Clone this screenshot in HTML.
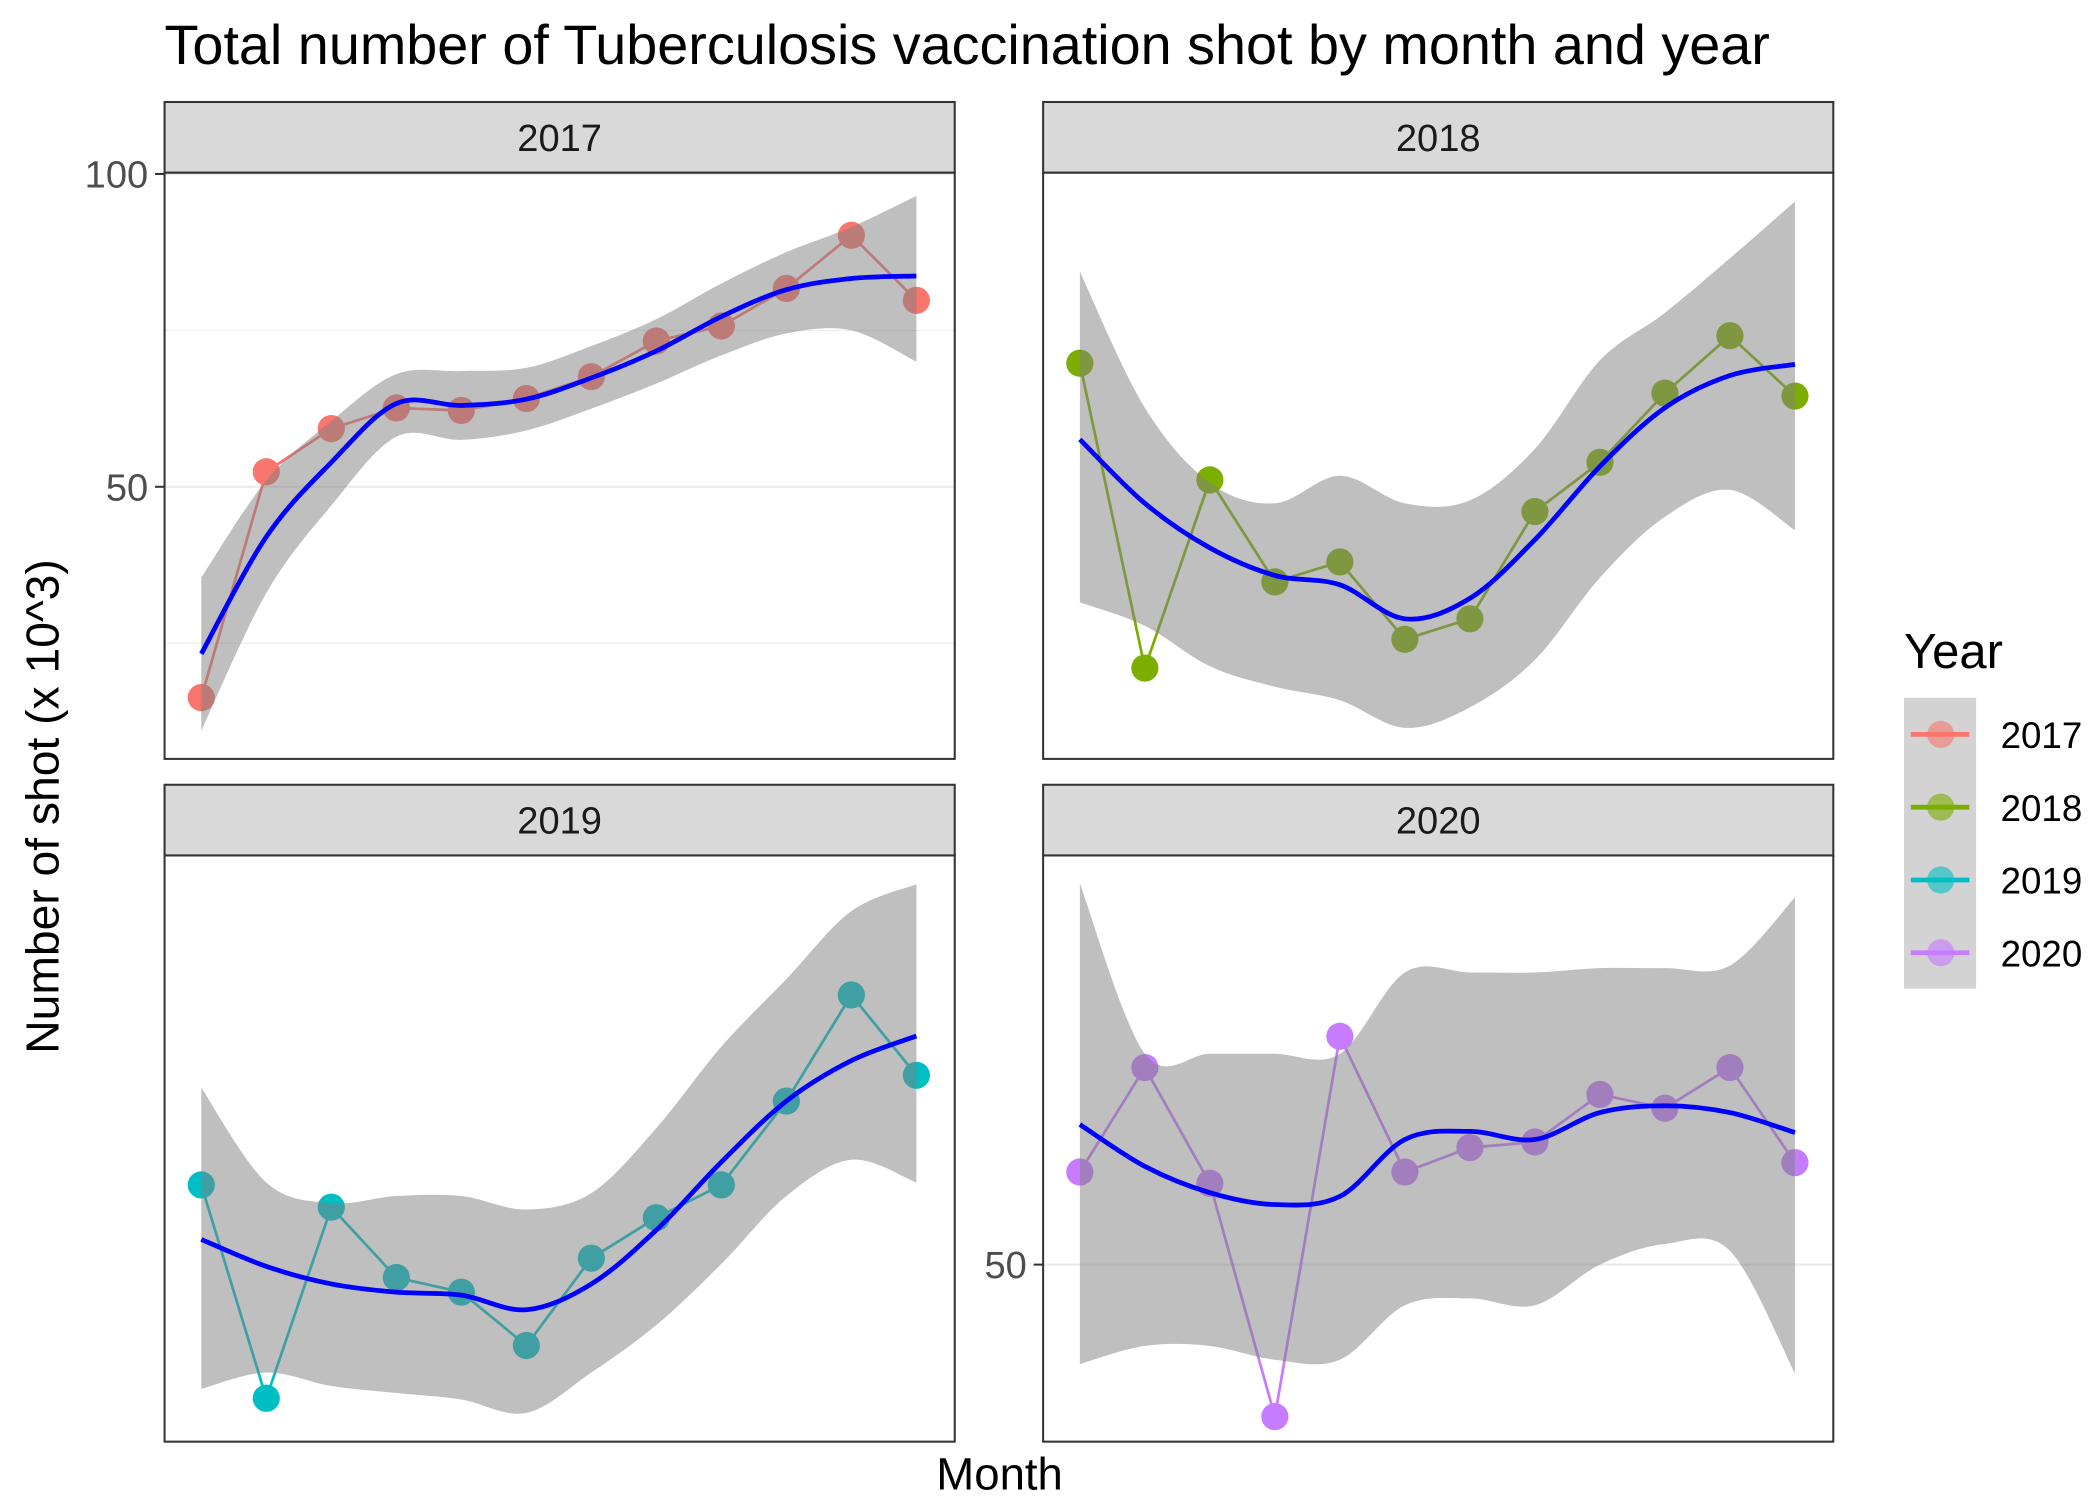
<!DOCTYPE html>
<html><head><meta charset="utf-8"><style>
html,body{margin:0;padding:0;background:#fff}
svg{display:block;font-family:"Liberation Sans",sans-serif}
</style></head><body>
<svg id="chart" width="2100" height="1500" viewBox="0 0 1544.1 1102.9" preserveAspectRatio="none">
<text x="121" y="47" font-size="41" fill="#000">Total number of Tuberculosis vaccination shot by month and year</text>
<text transform="translate(43,593) rotate(-90)" text-anchor="middle" font-size="34" fill="#000">Number of shot (x 10^3)</text>
<text x="735" y="1095" text-anchor="middle" font-size="33.5" fill="#000">Month</text>
<g id="panels"></g>
<g>
<text x="1400" y="491" font-size="36" fill="#000">Year</text>
<rect x="1400" y="513" width="53" height="214" fill="#d3d3d3"/>
<g id="legend-items"></g>
</g>
</svg>
<script>
const months = [1,2,3,4,5,6,7,8,9,10,11,12];
const years = ['2017','2018','2019','2020'];
const colors = ['#F8766D','#7CAE00','#00BFC4','#C77CFF'];
const shots2017 = [16.3,52.4,59.3,62.6,62.2,64.1,67.6,73.3,75.7,81.7,90.2,79.8];
const shots2018 = [67.5,15.5,47.6,30.2,33.6,20.4,23.9,42.2,50.6,62.4,72.2,61.9];
const shots2019 = [43.8,7.4,40,28,25.5,16.4,31.3,38.2,43.8,58.1,76.2,62.5];
const shots2020 = [64.8,81.5,63,25.7,86.5,64.8,68.7,69.6,77.2,75,81.5,66.3];
const fit2017 = [23.3,42,53.9,63.3,63,64,67.4,71.7,77.2,81.5,83.3,83.7];
const lo2017 = [11,33,47,58,57.5,59,62.5,66.5,71,74.5,75,70];
const hi2017 = [35.5,51,60.5,68,68.5,69,72.5,76.8,82.5,87.5,91.5,96.5];
const fit2018 = [54.5,43.6,36,31.3,29.7,23.9,27.4,37.4,49.9,59.9,65.4,67.3];
const lo2018 = [26.7,22.7,15.8,12.3,10,5.3,8.8,16.9,30.9,41.3,45.9,39];
const hi2018 = [83.1,59.9,47.1,43.6,48.3,43.6,44.1,52.9,68,76.1,85.4,95.1];
const fit2019 = [34.5,29.9,26.9,25.5,25,22.5,26.9,36.1,47.7,58.1,65,69.2];
const lo2019 = [9,11.8,9.5,8.3,7.2,4.9,11.8,19.9,30.3,41.9,48.1,44.2];
const hi2019 = [60.4,44.2,40.7,41.9,41.9,39.6,42.4,53.5,67.4,78.9,90.5,95.1];
const fit2020 = [72.4,65.7,61.5,59.6,60.9,70,71.3,70,74.3,75.4,74.3,71.1];
const lo2020 = [34.1,37,37,34.8,34.8,43.5,44.6,43.5,50,53.3,52.2,32.6];
const hi2020 = [110.9,83.7,83.7,83.7,83.7,96.7,96.7,96.7,97.4,97.4,97.8,108.7];
const yTicks2017 = [25,50,75,100];
const yLabels2017 = ['','50','','100'];
const yTicks2020 = [50];
const yLabels2020 = ['50'];

const NS='http://www.w3.org/2000/svg';
function mk(tag,attrs,parent){const e=document.createElementNS(NS,tag);for(const k in attrs)e.setAttribute(k,attrs[k]);if(parent)parent.appendChild(e);return e;}
function smooth(pts){let d='M'+pts[0][0]+','+pts[0][1];for(let i=0;i<pts.length-1;i++){const p0=pts[Math.max(0,i-1)],p1=pts[i],p2=pts[i+1],p3=pts[Math.min(pts.length-1,i+2)];const c1=[p1[0]+(p2[0]-p0[0])/6,p1[1]+(p2[1]-p0[1])/6],c2=[p2[0]-(p3[0]-p1[0])/6,p2[1]-(p3[1]-p1[1])/6];d+=` C${c1[0]},${c1[1]} ${c2[0]},${c2[1]} ${p2[0]},${p2[1]}`;}return d;}
function smoothCont(pts){return smooth(pts).replace(/^M/,'L');}

const panelsG=document.getElementById('panels');
const cfg=[
 {x0:121,y0:127,shots:shots2017,fit:fit2017,lo:lo2017,hi:hi2017,dom:[6.5,100.2],ticks:yTicks2017,labels:yLabels2017},
 {x0:767,y0:127,shots:shots2018,fit:fit2018,lo:lo2018,hi:hi2018,dom:[0,100],ticks:[],labels:[]},
 {x0:121,y0:629,shots:shots2019,fit:fit2019,lo:lo2019,hi:hi2019,dom:[0,100],ticks:[],labels:[]},
 {x0:767,y0:629,shots:shots2020,fit:fit2020,lo:lo2020,hi:hi2020,dom:[21.7,115.4],ticks:yTicks2020,labels:yLabels2020}
];
const W=581,H=431;
cfg.forEach((c,pi)=>{
 const g=mk('g',{},panelsG);
 
 
 const xs=m=>c.x0+27+(m-1)*47.8;
 const ys=v=>c.y0+H-(v-c.dom[0])/(c.dom[1]-c.dom[0])*H;
 const strip=mk('rect',{x:c.x0,y:c.y0-52,width:W,height:52,fill:'#d9d9d9',stroke:'#333','stroke-width':1.5},g);
 
 
 const st=mk('text',{x:c.x0+W/2,y:c.y0-16,'text-anchor':'middle','font-size':28,fill:'#1a1a1a'},g);
 st.textContent=years[pi];
 
 
 mk('rect',{x:c.x0,y:c.y0,width:W,height:H,fill:'#fff'},g);
 c.ticks.forEach((t,i)=>{
  const y=ys(t);
  const gl=mk('line',{x1:c.x0,x2:c.x0+W,y1:y,y2:y,stroke:'#ebebeb','stroke-width':c.labels[i]?1.6:0.8},g);
  
  
  if(c.labels[i]){
   mk('line',{x1:c.x0-7,x2:c.x0,y1:y,y2:y,stroke:'#333','stroke-width':1.5},g);
   const tl=mk('text',{x:c.x0-12,y:y+10,'text-anchor':'end','font-size':28,fill:'#4d4d4d'},g);
   tl.textContent=c.labels[i];
   
   
  }
 });
 const pts=months.map((m,i)=>[xs(m),ys(c.shots[i])]);
 const ln=mk('polyline',{points:pts.map(p=>p.join(',')).join(' '),fill:'none',stroke:colors[pi],'stroke-width':2},g);
 
 
 pts.forEach((p,i)=>{
  const ci=mk('circle',{cx:p[0],cy:p[1],r:10,fill:colors[pi]},g);
  
  
 });
 const hiP=months.map((m,i)=>[xs(m),ys(c.hi[i])]);
 const loP=months.map((m,i)=>[xs(m),ys(c.lo[i])]).reverse();
 const band=mk('path',{d:smooth(hiP)+' '+smoothCont(loP)+' Z',fill:'#7f7f7f','fill-opacity':0.5},g);
 
 
 const fitP=months.map((m,i)=>[xs(m),ys(c.fit[i])]);
 const fl=mk('path',{d:smooth(fitP),fill:'none',stroke:'#0000ff','stroke-width':3.5},g);
 
 
 mk('rect',{x:c.x0,y:c.y0,width:W,height:H,fill:'none',stroke:'#333','stroke-width':1.5},g);
});
const lg=document.getElementById('legend-items');
years.forEach((y,i)=>{
 const cy=540+i*53.5;
 const it=mk('g',{},lg);
 
 
 mk('circle',{cx:1427,cy:cy,r:10,fill:colors[i],'fill-opacity':0.6},it);
 mk('line',{x1:1405,x2:1448,y1:cy,y2:cy,stroke:colors[i],'stroke-width':3.5},it);
 const t=mk('text',{x:1471,y:cy+10,'font-size':27,fill:'#000'},it);
 t.textContent=y;
});
</script>
</body></html>
